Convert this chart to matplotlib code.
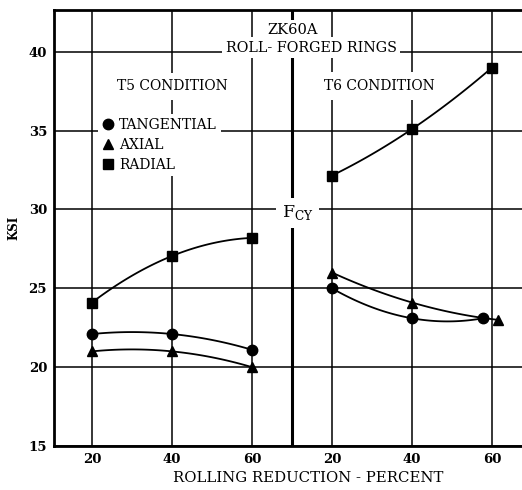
import numpy as np
import matplotlib
matplotlib.use('Agg')
import matplotlib.pyplot as plt
from matplotlib.lines import Line2D

plt.rcParams['font.family'] = ['DejaVu Serif']
plt.rcParams['mathtext.fontset'] = 'custom'
plt.rcParams['mathtext.rm'] = 'DejaVu Serif'

# rolling reduction (percent) and yield strength (ksi)
t5_x = [20, 40, 60]
t5_tangential = [22.1, 22.1, 21.1]
t5_axial = [21.0, 21.0, 20.0]
t5_radial = [24.1, 27.05, 28.2]

t6_x_tangential = [20, 40, 57.75]
t6_x_axial = [20, 40, 61.5]
t6_x_radial = [20, 40, 60]
t6_tangential = [25.0, 23.1, 23.1]
t6_axial = [26.0, 24.1, 23.0]
t6_radial = [32.15, 35.1, 39.0]

# T6 panel sits to the right of the T5 panel on one shared axis
t6_offset = 60
divider = 70

x_ticks = [20, 40, 60, 80, 100, 120]
x_ticklabels = ['20', '40', '60', '20', '40', '60']
y_ticks = [15, 20, 25, 30, 35, 40]


def smooth(x, y):
    coef = np.polyfit(x, y, 2)
    xs = np.linspace(min(x), max(x), 100)
    return xs, np.polyval(coef, xs)


fig = plt.figure(figsize=(5.22, 4.9), dpi=100)
ax = fig.add_axes([54/522, 1-446/490, 1-54/522, 436/490])

series = [
    (t5_x, t5_tangential, 0, 'o'),
    (t5_x, t5_axial, 0, '^'),
    (t5_x, t5_radial, 0, 's'),
    (t6_x_tangential, t6_tangential, t6_offset, 'o'),
    (t6_x_axial, t6_axial, t6_offset, '^'),
    (t6_x_radial, t6_radial, t6_offset, 's'),
]
for xv, yv, off, mk in series:
    xv = np.array(xv) + off
    xs, ys = smooth(xv, yv)
    ax.plot(xs, ys, color='black', lw=1.3, zorder=4)
    ax.plot(xv, yv, ls='none', marker=mk, color='black',
            markersize=7.5 if mk != 's' else 6.5, zorder=5)

ax.set_xlim(10.5, 127.5)
ax.set_ylim(15, 42.65)
ax.set_xticks(x_ticks)
ax.set_xticklabels(x_ticklabels)
ax.set_yticks(y_ticks)
ax.tick_params(length=0, pad=5, labelsize=9.5)
for lab in ax.get_xticklabels() + ax.get_yticklabels():
    lab.set_fontweight('bold')

ax.set_axisbelow(True)
ax.grid(True, color='black', lw=1.1)
ax.axvline(divider, color='black', lw=2.2, zorder=1.5)

for side in ['left', 'bottom', 'top']:
    ax.spines[side].set_linewidth(2)
ax.spines['right'].set_visible(False)

box = dict(fc='white', ec='none', pad=2.5)
ax.text(70.25, 41.35, 'ZK60A', ha='center', va='center', fontsize=10.5,
        bbox=box, zorder=3)
ax.text(74.75, 40.25, 'ROLL- FORGED RINGS', ha='center', va='center',
        fontsize=10.3, bbox=box, zorder=3)
ax.text(40, 37.8, 'T5 CONDITION', ha='center', va='center', fontsize=10,
        bbox=dict(fc='white', ec='none', pad=5), zorder=3)
ax.text(91.75, 37.85, 'T6 CONDITION', ha='center', va='center', fontsize=10,
        bbox=dict(fc='white', ec='none', pad=5), zorder=3)
ax.text(71.4, 29.8, r'$\mathrm{F}_{\mathrm{CY}}$', ha='center', va='center',
        fontsize=12.5, bbox=dict(fc='white', ec='none', pad=4), zorder=3)

handles = [
    Line2D([], [], ls='none', marker='o', color='black', markersize=7.5),
    Line2D([], [], ls='none', marker='^', color='black', markersize=7.5),
    Line2D([], [], ls='none', marker='s', color='black', markersize=6.5),
]
leg = ax.legend(handles, ['TANGENTIAL', 'AXIAL', 'RADIAL'],
                loc='upper left', bbox_to_anchor=(98/522, 1-114/490),
                bbox_transform=fig.transFigure, fontsize=10,
                frameon=True, fancybox=False, borderpad=0.3,
                handlelength=0.8, handletextpad=0.4, labelspacing=0.42,
                borderaxespad=0)
leg.get_frame().set_facecolor('white')
leg.get_frame().set_edgecolor('none')
leg.get_frame().set_alpha(1)

ax.set_ylabel('KSI', fontsize=8.5, fontweight='bold', labelpad=6)
fig.text(308/522, 1-478/490, 'ROLLING REDUCTION - PERCENT', ha='center',
         va='center', fontsize=10.7)

fig.savefig('out.png', dpi=100)
